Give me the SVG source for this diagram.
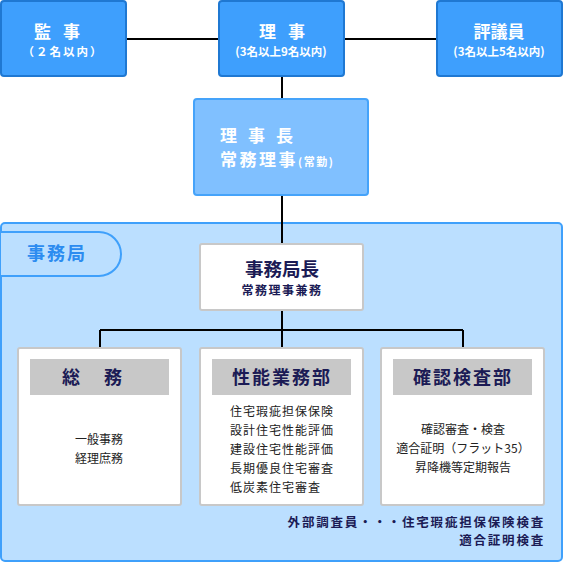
<svg xmlns="http://www.w3.org/2000/svg" width="563" height="562" viewBox="0 0 563 562">
<style>
text{font-family:"Noto Sans CJK JP","Noto Sans CJK SC",sans-serif;}
.top{fill:#3e9ffd;stroke:#1f78d2;stroke-width:2;}
.wt{fill:#fff;font-weight:bold;}
.wbox{fill:#fff;stroke:#c8c8c8;stroke-width:2;}
.hdr{fill:#c8c8c8;}
.nv{fill:#1b1b55;}
.ln{stroke:#000;stroke-width:2;fill:none;}
.item{fill:#222;font-size:12px;}
</style>
<rect x="0" y="0" width="563" height="562" fill="#fff"/>
<g id="panel">
<rect x="1" y="223" width="561" height="338" rx="4" fill="#bbdfff" stroke="#3fa0fb" stroke-width="2"/>
<path d="M1 232 H99 A22 22 0 0 1 99 276 H1" fill="#bbdfff" stroke="#3fa0fb" stroke-width="2"/>
<text x="57" y="260" font-size="18" font-weight="bold" fill="#2c8cf0" text-anchor="middle" letter-spacing="2">事務局</text>
</g>
<g id="connectors">
<path class="ln" d="M127 39 H219 M344 39 H436 M282 76 V98 M282 195 V244 M282 310 V330 M100 330 H463 M100 330 V348 M282 330 V348 M463 330 V348"/>
</g>
<g id="kanji">
<rect class="top" x="1" y="1" width="125" height="75" rx="3"/>
<text class="wt" x="63" y="38" font-size="17" text-anchor="middle" letter-spacing="12">監事</text>
<text class="wt" x="63" y="56" font-size="11.5" text-anchor="middle" letter-spacing="2">（２名以内）</text>
</g>
<g id="riji">
<rect class="top" x="219" y="1" width="125" height="75" rx="3"/>
<text class="wt" x="288" y="38" font-size="17" text-anchor="middle" letter-spacing="12">理事</text>
<text class="wt" x="281" y="56" font-size="11.5" text-anchor="middle">(3名以上9名以内)</text>
</g>
<g id="hyogiin">
<rect class="top" x="437" y="1" width="125" height="75" rx="3"/>
<text class="wt" x="499" y="38" font-size="17" text-anchor="middle">評議員</text>
<text class="wt" x="499" y="56" font-size="11.5" text-anchor="middle">(3名以上5名以内)</text>
</g>
<g id="rijicho">
<rect x="194" y="99" width="174" height="96" rx="3" fill="#80c0ff" stroke="#45a3fa" stroke-width="2"/>
<text class="wt" x="220" y="142" font-size="17" letter-spacing="11">理事長</text>
<text class="wt" x="220" y="166" font-size="17" letter-spacing="2.5">常務理事<tspan font-size="11" letter-spacing="1.5">(常勤)</tspan></text>
</g>
<g id="jimukyokucho">
<rect class="wbox" x="200" y="244" width="163" height="66" rx="2"/>
<text class="nv" x="282" y="276" font-size="18.5" font-weight="bold" text-anchor="middle">事務局長</text>
<text class="nv" x="282" y="295" font-size="12" font-weight="bold" text-anchor="middle" letter-spacing="1.5">常務理事兼務</text>
</g>
<g id="somu">
<rect class="wbox" x="18" y="348" width="163" height="157" rx="2"/>
<rect class="hdr" x="30" y="359" width="139" height="36"/>
<text class="nv" x="104" y="384" font-size="18" font-weight="bold" text-anchor="middle" letter-spacing="24">総務</text>
<text class="item" x="99" y="444" text-anchor="middle">一般事務</text>
<text class="item" x="99" y="463" text-anchor="middle">経理庶務</text>
</g>
<g id="seino">
<rect class="wbox" x="200" y="348" width="163" height="157" rx="2"/>
<rect class="hdr" x="212" y="359" width="139" height="36"/>
<text class="nv" x="282" y="384" font-size="18" font-weight="bold" text-anchor="middle" letter-spacing="2">性能業務部</text>
<text class="item" x="230" y="416" letter-spacing="1">住宅瑕疵担保保険</text>
<text class="item" x="230" y="435" letter-spacing="1">設計住宅性能評価</text>
<text class="item" x="230" y="454" letter-spacing="1">建設住宅性能評価</text>
<text class="item" x="230" y="473" letter-spacing="1">長期優良住宅審査</text>
<text class="item" x="230" y="492" letter-spacing="1">低炭素住宅審査</text>
</g>
<g id="kakunin">
<rect class="wbox" x="381" y="348" width="163" height="157" rx="2"/>
<rect class="hdr" x="393" y="359" width="139" height="36"/>
<text class="nv" x="463" y="384" font-size="18" font-weight="bold" text-anchor="middle" letter-spacing="2">確認検査部</text>
<text class="item" x="463" y="434" text-anchor="middle">確認審査・検査</text>
<text class="item" x="463" y="453" text-anchor="middle">適合証明（フラット35）</text>
<text class="item" x="463" y="472" text-anchor="middle">昇降機等定期報告</text>
</g>
<g id="gaibu">
<text class="nv" x="545" y="527" font-size="12.5" font-weight="bold" text-anchor="end" letter-spacing="1.8">外部調査員・・・住宅瑕疵担保保険検査</text>
<text class="nv" x="545" y="545" font-size="12.5" font-weight="bold" text-anchor="end" letter-spacing="1.8">適合証明検査</text>
</g>
</svg>
